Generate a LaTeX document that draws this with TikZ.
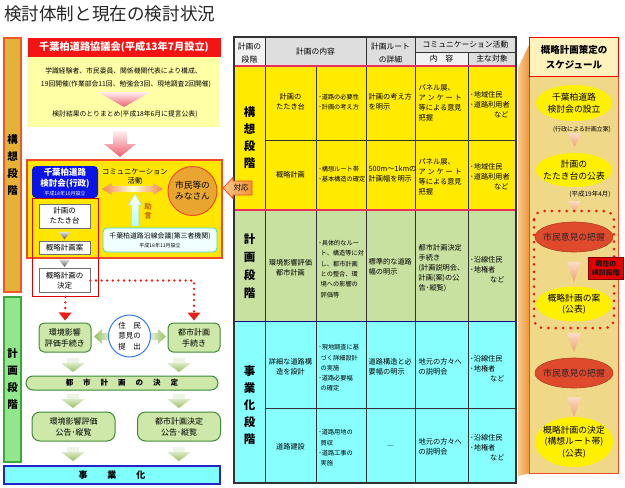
\documentclass[tikz,border=0pt]{standalone}
\usepackage{fontspec}
\setmainfont{Noto Sans CJK JP}
\usetikzlibrary{arrows.meta,shapes.geometric,calc}
\definecolor{barGold}{HTML}{E4B238}
\definecolor{barEdge}{HTML}{EE5A24}
\definecolor{barGreen}{HTML}{92E68C}
\definecolor{barGreenEdge}{HTML}{3CA83C}
\definecolor{hdrRed}{HTML}{F41414}
\definecolor{paleYel}{HTML}{FFFFA6}
\definecolor{pinkArr}{HTML}{F06070}
\definecolor{boxYel}{HTML}{FFE600}
\definecolor{boxEdge}{HTML}{F04A28}
\definecolor{kenBlue}{HTML}{0A14E6}
\definecolor{grayEdge}{HTML}{707070}
\definecolor{arrOr}{HTML}{F08848}
\definecolor{cyanBox}{HTML}{F0FFFF}
\definecolor{cyanEdge}{HTML}{40D8E8}
\definecolor{goldCirc}{HTML}{E8A630}
\definecolor{jogenCol}{HTML}{C8700A}
\definecolor{dotRed}{HTML}{E82018}
\definecolor{gFill}{HTML}{CDE8A8}
\definecolor{gEdge}{HTML}{3F8A3A}
\definecolor{gHead}{HTML}{98C060}
\definecolor{gShaft}{HTML}{EEF4E4}
\definecolor{bluCirc}{HTML}{2F7AF0}
\definecolor{jigyoCyan}{HTML}{80FFFF}
\definecolor{jigyoEdge}{HTML}{2424C8}
\definecolor{tYel}{HTML}{FFEA00}
\definecolor{tGreen}{HTML}{C8E0A0}
\definecolor{tCyan}{HTML}{88FFFF}
\definecolor{tLine}{HTML}{333333}
\definecolor{tPink}{HTML}{E8305A}
\definecolor{hGray}{HTML}{DEDEDE}
\definecolor{hGrayL}{HTML}{F2F2F2}
\definecolor{panelFill}{HTML}{EFD988}
\definecolor{panelHdr}{HTML}{FFF2BC}
\definecolor{ellYel}{HTML}{FFF000}
\definecolor{ellRed}{HTML}{E04A2C}
\definecolor{triTop}{HTML}{FADCC4}
\definecolor{triBot}{HTML}{F0A078}
\definecolor{bandL}{HTML}{F8C888}
\definecolor{bandR}{HTML}{F09238}
\begin{document}
\begin{tikzpicture}[x=1pt,y=-1pt,
  vtxt/.style={align=center, inner sep=0pt, font=\bfseries\fontsize{10.5}{17}\selectfont},
  wbox/.style={draw=grayEdge, fill=white, line width=0.8pt, align=center, inner sep=0pt, font=\fontsize{7.5}{10}\selectfont, minimum width=51},
  gbox/.style={draw=gEdge, fill=gFill, line width=1pt, align=center, inner sep=0pt, font=\fontsize{8}{11}\selectfont, rounded corners=5},
  tc/.style={align=center, inner sep=0pt, font=\fontsize{7.2}{10}\selectfont},
  tl/.style={align=left, inner sep=0pt, anchor=west, font=\fontsize{7.2}{10}\selectfont},
  tl3/.style={align=left, inner sep=0pt, anchor=west, font=\fontsize{6.2}{10.3}\selectfont},
  th/.style={align=center, inner sep=0pt, font=\fontsize{7.8}{12.5}\selectfont},
  ellsh/.style={ellipse, inner sep=0pt},
  etext/.style={align=center, inner sep=0pt, font=\fontsize{8.8}{11.5}\selectfont},
  reddot/.style={draw=dotRed, line width=2.6pt, line cap=round, dash pattern=on 0pt off 5.6pt},
  tri/.style={top color=triTop, bottom color=triBot},
  gdown/.pic={
    \fill[gShaft] (-6,0) rectangle (6,5.5);
    \shade[top color=gHead!35!white, bottom color=gHead] (-12,5) -- (12,5) -- (0,14) -- cycle;
  }
]
\useasboundingbox (0,0) rectangle (625,488);
\fill[white] (0,0) rectangle (625,488);

% title
\node[anchor=west, inner sep=0pt, font=\fontsize{17.6}{18}\selectfont, text=black!85] (title) at (4,14) {検討体制と現在の検討状況};

% ===== left side =====
\node[draw=barEdge, fill=barGold, line width=1.2pt, minimum width=17, minimum height=254, vtxt] (koso) at (12.5,165) {構\\想\\段\\階};
\node[draw=barGreenEdge, fill=barGreen, line width=1.2pt, minimum width=17, minimum height=165, vtxt] (keikaku) at (12.5,379.5) {計\\画\\段\\階};

\node[fill=hdrRed, minimum width=193, minimum height=19, inner sep=0pt, text=white, font=\bfseries\fontsize{10.2}{11}\selectfont] (kyogi) at (124,47.5) {千葉柏道路協議会(平成13年7月設立)};
\node[fill=paleYel, minimum width=193, minimum height=70, inner sep=0pt] (kyogiBody) at (123.5,92) {};
\node[inner sep=0pt, font=\fontsize{6.8}{8}\selectfont] (kb1) at (123.5,71) {学識経験者、市民委員、関係機関代表により構成、};
\node[inner sep=0pt, font=\fontsize{6.8}{8}\selectfont] (kb2) at (126,84) {19回開催(作業部会11回、勉強会3回、現地調査2回開催)};
\shade[top color=pinkArr!10, bottom color=pinkArr] (98,92) -- (150,92) -- (124,107) -- cycle;
\node[inner sep=0pt, font=\fontsize{6.8}{8}\selectfont] (kb3) at (125,114) {検討結果のとりまとめ(平成18年6月に提言公表)};

% big pink arrow
\shade[top color=pinkArr!10, bottom color=pinkArr] (113,131) -- (127,131) -- (127,144) -- (136,144) -- (120,157) -- (104,144) -- (113,144) -- cycle;

% yellow stage box
\node[draw=boxEdge, fill=boxYel, line width=1.2pt, minimum width=195, minimum height=98, inner sep=0pt] (kosoBox) at (124.5,209) {};
\node[draw=red!85!black, line width=0.8pt, minimum width=66, minimum height=98, inner sep=0pt, anchor=north west] (redFrame) at (32,198) {};
\node[fill=kenBlue, rounded corners=4, minimum width=66, minimum height=32, inner sep=0pt, text=white, align=center, font=\fontsize{8.5}{10.5}\selectfont] (kentou) at (65,182) {\textbf{千葉柏道路}\\\textbf{検討会(行政)}\\[-1.5pt]{\fontsize{5}{6}\selectfont 平成18年10月設立}};

\node[wbox, minimum height=24] (tatakidai) at (64.5,216) {計画の\\たたき台};
\node[wbox, minimum height=13] (gairyakuan) at (64.5,247.5) {概略計画案};
\node[wbox, minimum height=24] (kettei) at (64.5,280.5) {概略計画の\\決定};
\shade[top color=gray!25, bottom color=gray!70!black] ($(tatakidai.south)+(-6,3.5)$) -- ++(12,0) -- ($(tatakidai.south)+(0,11)$) -- cycle;
\shade[top color=gray!25, bottom color=gray!70!black] ($(gairyakuan.south)+(-6,5)$) -- ++(12,0) -- ($(gairyakuan.south)+(0,12.5)$) -- cycle;

% communication arrow
\shade[left color=arrOr, right color=arrOr, middle color=yellow!15] (102,189) -- (112,183) -- (112,186) -- (153,186) -- (153,183) -- (163,189) -- (153,195) -- (153,192) -- (112,192) -- (112,195) -- cycle;
\node[inner sep=0pt, font=\fontsize{7.3}{8}\selectfont] (comm1) at (135,172) {コミュニケーション};
\node[inner sep=0pt, font=\fontsize{7.3}{8}\selectfont] (comm2) at (135,181) {活動};

% advice arrow
\shadedraw[bottom color=cyan!30, top color=white, draw=cyan!40, line width=0.4pt] (131.5,226) -- (131.5,205) -- (128.5,205) -- (135,194) -- (141.5,205) -- (138.5,205) -- (138.5,226) -- cycle;
\node[inner sep=0pt, align=center, text=jogenCol, font=\bfseries\fontsize{7.5}{9}\selectfont] (jogen) at (148,211) {助\\言};

\node[draw=cyanEdge, fill=cyanBox, rounded corners=4, line width=0.8pt, minimum width=114, minimum height=24, inner sep=0pt, align=center, font=\fontsize{6.9}{10}\selectfont] (engan) at (160,240) {千葉柏道路沿線会議(第三者機関)\\[-1pt]{\fontsize{5}{6}\selectfont 平成18年11月設立}};

\node[circle, fill=goldCirc, draw=boxEdge, line width=1pt, minimum size=49, inner sep=0pt, align=center, font=\fontsize{8.7}{11}\selectfont] (shimin) at (192.5,191) {市民等の\\みなさん};

% red dotted connectors
\node[gbox, minimum width=52, minimum height=29] (kankyoP) at (65,337.5) {環境影響\\評価手続き};
\node[gbox, minimum width=52, minimum height=29] (toshiP) at (194,337.5) {都市計画\\手続き};
\draw[reddot, -{Triangle[width=13pt,length=8pt,line width=0pt]}, shorten >=2pt] (kettei.east) -| (toshiP.north);
\draw[reddot, -{Triangle[width=13pt,length=8pt,line width=0pt]}, shorten >=2pt] (redFrame.south) -- (kankyoP.north);

% green side arrows + circle
\shade[left color=gHead, right color=gShaft] (94,336.5) -- (102,329) -- (102,333) -- (112,333) -- (112,340) -- (102,340) -- (102,344) -- cycle;
\shade[left color=gShaft, right color=gHead] (166,336.5) -- (158,329) -- (158,333) -- (148,333) -- (148,340) -- (158,340) -- (158,344) -- cycle;
\node[circle, draw=bluCirc, fill=white, line width=1pt, minimum size=42, inner sep=0pt, align=center, font=\fontsize{7.5}{10.5}\selectfont] (jumin) at (129.5,336) {住　民\\意見の\\提　出};

\pic at (73,358) {gdown};
\pic at (179,358) {gdown};
\node[gbox, rounded corners=7, minimum width=192, minimum height=14, font=\bfseries\fontsize{7.5}{9}\selectfont] (toshiKettei) at (122,383) {都\hspace{10pt}市\hspace{10pt}計\hspace{10pt}画\hspace{10pt}の\hspace{10pt}決\hspace{10pt}定};
\pic at (73,394) {gdown};
\pic at (179,394) {gdown};
\node[gbox, rounded corners=8, minimum width=83, minimum height=29] (kankyoK) at (73.5,426.5) {環境影響評価\\公告･縦覧};
\node[gbox, rounded corners=8, minimum width=83, minimum height=29] (toshiK) at (179,426.5) {都市計画決定\\公告･縦覧};
\pic at (73,447) {gdown};
\pic at (179,447) {gdown};
\node[draw=jigyoEdge, fill=jigyoCyan, line width=1.2pt, minimum width=216, minimum height=18, inner sep=0pt, font=\bfseries\fontsize{9}{10}\selectfont] (jigyo) at (112,475) {事\hspace{20pt}業\hspace{20pt}化};

% ===== table =====
\fill[hGrayL] (234,37) rectangle (265,66);
\fill[hGray] (265,37) rectangle (415,66);
\fill[hGray] (415,37) rectangle (516,52);
\fill[hGrayL] (415,52) rectangle (468,66);
\fill[hGray] (468,52) rectangle (516,66);
\fill[tYel] (234,66) rectangle (516,210);
\fill[tGreen] (234,210) rectangle (516,321);
\fill[tCyan] (234,321) rectangle (516,483);
\draw[tLine, line width=0.8pt]
  (265,37) -- (265,483)
  (316,66) -- (316,483)
  (366,37) -- (366,483)
  (415,37) -- (415,483)
  (468,52) -- (468,483)
  (415,52) -- (516,52)
  (234,66) -- (516,66)
  (265,140) -- (516,140)
  (234,210) -- (516,210)
  (265,408) -- (516,408);
\draw[blue!50!black, line width=0.9pt] (234,321) -- (516,321);
\draw[tPink, line width=1.4pt] (234,66) rectangle (516,210);
\draw[tLine, line width=1.2pt] (234,37) rectangle (516,483);

\node[th] (h1) at (249.5,53) {計画の\\段階};
\node[th] (h2) at (315.5,52) {計画の内容};
\node[th] (h3) at (390.5,53) {計画ルート\\の詳細};
\node[th] (h4) at (465.5,44.5) {コミュニケーション活動};
\node[th] (h5) at (441.5,59) {内　容};
\node[th] (h6) at (492,59) {主な対象};

\node[vtxt, font=\bfseries\fontsize{11.5}{17}\selectfont] (s1) at (249.5,138) {構\\想\\段\\階};
\node[vtxt, font=\bfseries\fontsize{11.5}{18}\selectfont] (s2) at (249.5,266) {計\\画\\段\\階};
\node[vtxt, font=\bfseries\fontsize{11.5}{17}\selectfont] (s3) at (249.5,405) {事\\業\\化\\段\\階};

% row 1
\node[tc] (r1c2) at (290.5,102) {計画の\\たたき台};
\node[tl3] (r1c3) at (318.5,102) {･道路の必要性\\･計画の考え方};
\node[tl] (r1c4) at (368.5,102) {計画の考え方\\を明示};
\node[tl] (r1c5) at (418.5,103) {パネル展、\\ア\hspace{1.8pt}ン\hspace{1.8pt}ケ\hspace{1.8pt}ー\hspace{1.8pt}ト\\等による意見\\把握};
\node[tl] (r1c6) at (470,105) {･地域住民\\･道路利用者\\\hspace*{24pt}など};
% row 2
\node[tc] (r2c2) at (290.5,175) {概略計画};
\node[tl3] (r2c3) at (318.5,174) {･構想ルート帯\\･基本構造の確定};
\node[tl] (r2c4) at (368.5,174) {500m～1kmの\\計画幅を明示};
\node[tl] (r2c5) at (418.5,177) {パネル展、\\ア\hspace{1.8pt}ン\hspace{1.8pt}ケ\hspace{1.8pt}ー\hspace{1.8pt}ト\\等による意見\\把握};
\node[tl] (r2c6) at (470,177) {･地域住民\\･道路利用者\\\hspace*{24pt}など};
% green row
\node[tc] (r3c2) at (290.5,268) {環境影響評価\\都市計画};
\node[tl3] (r3c3) at (318.5,269) {･具体的なルー\\\hspace*{2pt}ト、構造等に対\\\hspace*{2pt}し、都市計画\\\hspace*{2pt}との整合、環\\\hspace*{2pt}境への影響の\\\hspace*{2pt}評価等};
\node[tl] (r3c4) at (368.5,267) {標準的な道路\\幅の明示};
\node[tl] (r3c5) at (418.5,268) {都市計画決定\\手続き\\(計画説明会、\\計画(案)の公\\告･縦覧)};
\node[tl] (r3c6) at (470,270) {･沿線住民\\･地権者\\\hspace*{20pt}など};
% cyan row 1
\node[tc] (r4c2) at (290.5,367) {詳細な道路構\\造を設計};
\node[tl3] (r4c3) at (318.5,368) {･現地調査に基\\\hspace*{2pt}づく詳細設計\\\hspace*{2pt}の実施\\･道路必要幅\\\hspace*{2pt}の確定};
\node[tl] (r4c4) at (368.5,367) {道路構造と必\\要幅の明示};
\node[tl] (r4c5) at (418.5,367) {地元の方々へ\\の説明会};
\node[tl] (r4c6) at (470,369) {･沿線住民\\･地権者\\\hspace*{20pt}など};
% cyan row 2
\node[tc] (r5c2) at (290.5,447) {道路建設};
\node[tl3] (r5c3) at (318.5,448) {･道路用地の\\\hspace*{2pt}買収\\･道路工事の\\\hspace*{2pt}実施};
\node[tc] (r5c4) at (390.5,447) {―};
\node[tl] (r5c5) at (418.5,447) {地元の方々へ\\の説明会};
\node[tl] (r5c6) at (470,448) {･沿線住民\\･地権者\\\hspace*{20pt}など};

% 対応 arrow
\shadedraw[left color=bandL, right color=bandR, draw=boxEdge, line width=0.8pt] (223,188) -- (233,177.5) -- (233,181) -- (252,181) -- (252,195) -- (233,195) -- (233,198.5) -- cycle;
\node[inner sep=0pt, font=\fontsize{7.5}{8}\selectfont] (taiou) at (241,188) {対応};

% ===== right panel =====
\shade[left color=bandL, right color=bandR] (518,68) -- (530,43) -- (530,473) -- (518,476) -- cycle;
\node[draw=boxEdge, fill=panelFill, line width=1pt, minimum width=89, minimum height=436, inner sep=0pt, anchor=north west] (panel) at (529,37) {};
\node[draw=red, fill=panelHdr, line width=1pt, minimum width=89, minimum height=39, inner sep=0pt, anchor=north west, align=center, font=\bfseries\fontsize{9.5}{14.5}\selectfont] (schedHdr) at (529,37) {概略計画策定の\\スケジュール};

\node[ellsh, fill=ellYel, minimum width=76, minimum height=36] (e1) at (574,103) {};
\node[etext] (e1t) at (e1) {千葉柏道路\\検討会の設立};
\shade[tri] (568,133) -- (581,133) -- (574.5,147) -- cycle;
\node[inner sep=0pt, font=\fontsize{6}{7}\selectfont] (e1note) at (582,130) {(行政による計画立案)};

\node[ellsh, fill=ellYel, minimum width=76, minimum height=34] (e2) at (574,170) {};
\node[etext] (e2t) at (e2) {計画の\\たたき台の公表};
\node[inner sep=0pt, font=\fontsize{6.5}{7}\selectfont] (e2note) at (590,194) {(平成19年4月)};
\shade[tri] (568,201) -- (581,201) -- (574.5,213) -- cycle;

\node[ellsh, fill=ellRed, draw=ellRed!80!black, line width=0.6pt, minimum width=78, minimum height=30] (r1) at (574,237) {};
\node[etext, text=black!85] (r1t) at (r1) {市民意見の把握};
\shade[tri] (567,262) -- (581,262) -- (574,282) -- cycle;
\node[ellsh, fill=ellYel, minimum width=76, minimum height=35] (e3) at (574,304) {};
\node[etext] (e3t) at (e3) {概略計画の案\\(公表)};
\draw[reddot, line width=3pt, dash pattern=on 0pt off 7.4pt, rounded corners=9] (534,211) rectangle (614,328);

\shade[tri] (567,333) -- (581,333) -- (574,352) -- cycle;
\node[ellsh, fill=ellRed, draw=ellRed!80!black, line width=0.6pt, minimum width=78, minimum height=30] (r2) at (574,373) {};
\node[etext, text=black!85] (r2t) at (r2) {市民意見の把握};
\shade[tri] (567,397) -- (581,397) -- (574,417) -- cycle;
\node[ellsh, fill=ellYel, minimum width=78, minimum height=50] (e4) at (574,442) {};
\node[etext] (e4t) at (e4) {概略計画の決定\\(構想ルート帯)\\(公表)};

\node[fill=red!90!black, draw=red!50!black, line width=0.6pt, minimum width=35, minimum height=22, inner sep=0pt, anchor=north west, align=center, font=\bfseries\fontsize{7}{9}\selectfont, text=black!90] (genzai) at (588,257) {現在の\\検討段階};
\end{tikzpicture}
\end{document}
